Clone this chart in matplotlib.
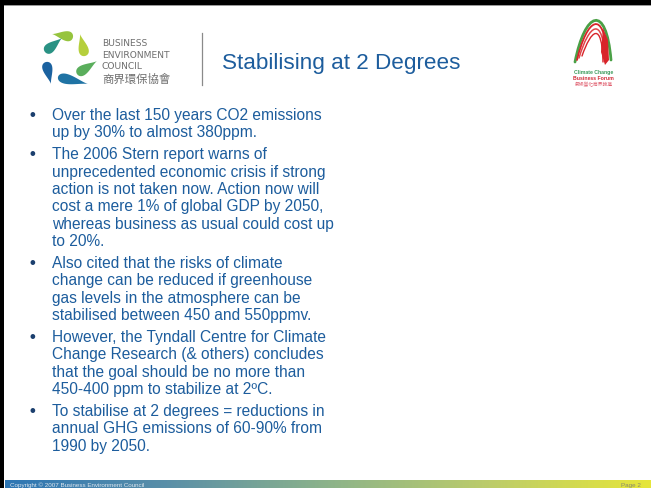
import numpy as np
import matplotlib
matplotlib.use('Agg')
import matplotlib.pyplot as plt
from matplotlib.patches import Polygon, PathPatch, Rectangle
from matplotlib.path import Path

# slide content
title = "Stabilising at 2 Degrees"
bullets = [
    ["Over the last 150 years CO2 emissions",
     "up by 30% to almost 380ppm."],
    ["The 2006 Stern report warns of",
     "unprecedented economic crisis if strong",
     "action is not taken now. Action now will",
     "cost a mere 1% of global GDP by 2050,",
     "whereas business as usual could cost up",
     "to 20%."],
    ["Also cited that the risks of climate",
     "change can be reduced if greenhouse",
     "gas levels in the atmosphere can be",
     "stabilised between 450 and 550ppmv."],
    ["However, the Tyndall Centre for Climate",
     "Change Research (& others) concludes",
     "that the goal should be no more than",
     "450-400 ppm to stabilize at 2\u00baC."],
    ["To stabilise at 2 degrees = reductions in",
     "annual GHG emissions of 60-90% from",
     "1990 by 2050."],
]
bec_lines = ["BUSINESS", "ENVIRONMENT", "COUNCIL"]
bec_chinese = "商界環保協會"
forum_lines = ["Climate Change", "Business Forum"]
forum_chinese = "氣候變化商界論壇"
footer_left = "Copyright \u00a9 2007 Business Environment Council"
footer_right = "Page 2"

blue_txt = '#1d5d9d'

fig = plt.figure(figsize=(6.51, 4.88), dpi=100)
ax = fig.add_axes([0, 0, 1, 1])

# frame: black top and left edges
ax.add_patch(Rectangle((0, 0), 651, 5, color='black', lw=0))
ax.add_patch(Rectangle((0, 5), 651, 1.2, color='#9a9a9a', lw=0))
ax.add_patch(Rectangle((0, 0), 4, 488, color='black', lw=0))

# footer gradient bar
grad = np.linspace(0, 1, 256)[None, :]
cmap = matplotlib.colors.LinearSegmentedColormap.from_list(
    'foot', ['#2e76b4', '#5a8fa8', '#8cb38a', '#bccc6a', '#e6e63a'])
ax.imshow(grad, extent=(5, 651, 488, 480), aspect='auto', cmap=cmap, zorder=1)
ax.set_xlim(0, 651)
ax.set_ylim(488, 0)
ax.axis('off')
ax.text(10, 486.5, footer_left, fontsize=4.5, color='#dde6ee',
        family='Liberation Sans', va='baseline')
ax.text(641, 486.5, footer_right, fontsize=4.5, color='#8a8a6a',
        family='Liberation Sans', va='baseline', ha='right')

# BEC logo: ring of teardrop leaves (round end -> tip)
def teardrop(rnd, tip, width, col):
    rnd = np.array(rnd, float)
    tip = np.array(tip, float)
    d = tip - rnd
    L = np.hypot(*d)
    ang = np.arctan2(d[1], d[0])
    t = np.linspace(0, 2 * np.pi, 80)
    u = np.cos(t) * L / 2
    v = np.sin(t) * (1 - np.cos(t)) / 2 * width / 1.3
    c, s = np.cos(ang), np.sin(ang)
    mid = (rnd + tip) / 2
    pts = np.column_stack([mid[0] + u * c - v * s, mid[1] + u * s + v * c])
    ax.add_patch(Polygon(pts, closed=True, color=col, lw=0))

leaves = [((73, 37), (52, 34), 10, '#96c43e'),
          ((85, 56), (80, 34), 10, '#b5cf3c'),
          ((77, 74), (97, 61), 10, '#5aae5c'),
          ((58, 77), (88, 84), 10, '#1f73a4'),
          ((46, 62), (51, 84), 10, '#1b62a0'),
          ((45, 52), (62, 38), 10, '#2a9284')]
for rnd, tip, w, col in leaves:
    teardrop(rnd, tip, w, col)
for i, s in enumerate(bec_lines):
    ax.text(102, 46.5 + i * 11.2, s, fontsize=6.6, color='#6e6e6e',
            family='DejaVu Sans', va='baseline')
ax.text(102, 83, bec_chinese, fontsize=8.2, color='#6e6e6e',
        family=['Noto Sans CJK TC', 'DejaVu Sans'], va='baseline')

# separator
ax.plot([201.5, 201.5], [33, 85], color='#8a8a8a', lw=0.9)

# title
ax.text(222, 69, title, fontsize=16.2, color=blue_txt,
        family='Liberation Sans', va='baseline')

# climate change business forum logo: arcs
def arc(p0, p1, p2, p3, col, lw):
    codes = [Path.MOVETO, Path.CURVE4, Path.CURVE4, Path.CURVE4]
    ax.add_patch(PathPatch(Path([p0, p1, p2, p3], codes), fc='none', ec=col,
                           lw=lw, capstyle='round'))

arc((575, 62), (585, 12), (606, 2), (611, 60), '#4aa046', 2.0)
arc((577, 60), (587, 18), (604, 8), (607, 56), '#d8242a', 1.3)
arc((579, 58), (589, 24), (603, 14), (605, 60), '#e0454a', 1.1)
arc((582, 56), (591, 30), (602, 20), (603, 62), '#d8242a', 1.0)
ax.add_patch(Polygon([(603, 28), (608, 40), (609, 60), (605, 65), (601, 52)],
                     closed=True, color='#d8242a', lw=0))
ax.text(593.5, 74, forum_lines[0], fontsize=3.7, color='#3a9a5a',
        family='Liberation Sans', weight='bold', ha='center', va='baseline')
ax.text(593.5, 80, forum_lines[1], fontsize=3.7, color='#d02a36',
        family='Liberation Sans', weight='bold', ha='center', va='baseline')
ax.text(593.5, 86, forum_chinese, fontsize=3.4, color='#e06070',
        family=['Noto Sans CJK TC', 'DejaVu Sans'], ha='center', va='baseline')

# bullet text
line_step = 17.4
bullet_gap = 4.4
y0 = 115
k = 0
for b, lines in enumerate(bullets):
    for j, s in enumerate(lines):
        y = y0 + line_step * k + bullet_gap * b + 5
        if j == 0:
            ax.text(29, y, "\u2022", fontsize=12, color='#1b3f6e',
                    family='Liberation Sans', weight='bold', va='baseline')
        ax.text(52, y, s, fontsize=11.2, color=blue_txt,
                family='Liberation Sans', va='baseline')
        k += 1

fig.savefig('out.png', dpi=100)
